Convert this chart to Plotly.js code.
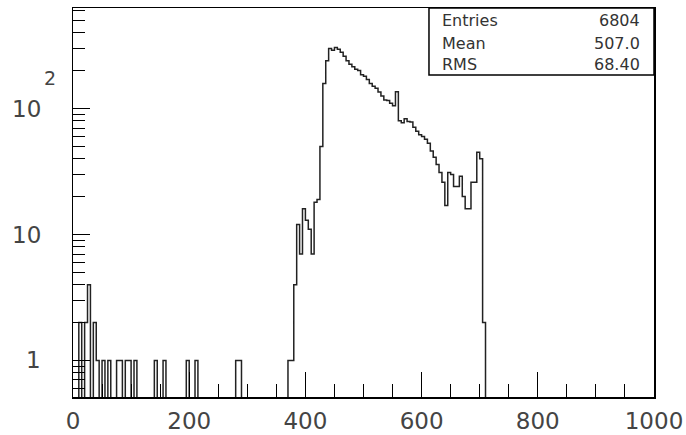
<!DOCTYPE html>
<html>
<head>
<meta charset="utf-8">
<script src="https://cdn.plot.ly/plotly-3.0.1.min.js"></script>
<style>html,body{margin:0;padding:0;background:#fff;}#chart{width:686px;height:435px;}</style>
</head>
<body>
<div id="chart"></div>
<script>
// Histogram: 200 bins of width 5 from 0 to 1000
const binWidth = 5;
const xMin = 0;
const counts = [
  0, 0, 2, 0, 2, 4, 0, 2, 1, 0,        // 0-45
  1, 0, 1, 0, 0, 1, 1, 0, 1, 1,        // 50-95
  0, 1, 0, 0, 0, 0, 0, 0, 1, 0,        // 100-145
  0, 1, 0, 0, 0, 0, 0, 0, 0, 1,        // 150-195
  0, 0, 1, 0, 0, 0, 0, 0, 0, 0,        // 200-245
  0, 0, 0, 0, 0, 0, 1, 1, 0, 0,        // 250-295
  0, 0, 0, 0, 0, 0, 0, 0, 0, 0,        // 300-345
  0, 0, 0, 0, 1, 1, 4, 12, 7, 16,      // 350-395
  13, 11, 7, 18, 19, 50, 158, 240, 300, 290,   // 400-445
  305, 295, 280, 260, 240, 225, 215, 205, 200, 185, // 450-495
  180, 170, 158, 150, 145, 135, 126, 117, 116, 110, // 500-545
  105, 136, 80, 77, 83, 79, 78, 71, 66, 62,  // 550-595
  60, 57, 53, 46, 41, 36, 31, 26, 17, 31,    // 600-645
  30, 24, 24, 29, 20, 16, 16, 26, 26, 45,    // 650-695
  40, 2, 0, 0, 0, 0, 0, 0, 0, 0,             // 700-745
  0, 0, 0, 0, 0, 0, 0, 0, 0, 0,              // 750-795
  0, 0, 0, 0, 0, 0, 0, 0, 0, 0,              // 800-845
  0, 0, 0, 0, 0, 0, 0, 0, 0, 0,              // 850-895
  0, 0, 0, 0, 0, 0, 0, 0, 0, 0,              // 900-945
  0, 0, 0, 0, 0, 0, 0, 0, 0, 0               // 950-995
];

const statLabels = ["Entries", "Mean", "RMS"];
const statValues = ["6804", "507.0", "68.40"];

const xMajorTicks = [0, 200, 400, 600, 800, 1000];
const xMinorTicks = [50,100,150,250,300,350,450,500,550,650,700,750,850,900,950];
const yMajorTicks = [1, 10, 100];
const yMinorTicks = [0.6,0.7,0.8,0.9,2,3,4,5,6,7,8,9,20,30,40,50,60,70,80,90,200,300,400,500,600];
const yTickBase = ["1", "10", "10"];
const yTickExp = ["", "", "2"];

// Build step outline (zero bins drop below the log axis bottom)
const xs = [], ys = [];
for (let i = 0; i < counts.length; i++) {
  xs.push(xMin + i * binWidth);
  ys.push(counts[i] > 0 ? counts[i] : 1e-3);
}
xs.push(xMin + counts.length * binWidth);
ys.push(counts[counts.length - 1] > 0 ? counts[counts.length - 1] : 1e-3);

const trace = {
  type: 'scatter', mode: 'lines', x: xs, y: ys,
  line: {shape: 'hv', color: '#222', width: 1.5},
  hoverinfo: 'skip', showlegend: false
};

const font = 'DejaVu Sans, sans-serif';
const annotations = [];
// y tick labels (base and exponent drawn as ROOT does)
const yLabelPos = [
  {x: -40, anchor: 'center'},
  {x: -63, anchor: 'left'},
  {x: -63, anchor: 'left'}
];
yMajorTicks.forEach((v, i) => {
  annotations.push({
    xref: 'paper', yref: 'y', x: 0, y: Math.log10(v),
    xshift: yLabelPos[i].x, xanchor: yLabelPos[i].anchor, yanchor: 'middle',
    text: yTickBase[i], showarrow: false,
    font: {family: font, size: 23, color: '#444'}
  });
  if (yTickExp[i]) {
    annotations.push({
      xref: 'paper', yref: 'y', x: 0, y: Math.log10(v),
      xshift: -23, yshift: 31, xanchor: 'center', yanchor: 'middle',
      text: yTickExp[i], showarrow: false,
      font: {family: font, size: 19, color: '#444'}
    });
  }
});
// stats box texts
const statY = [0.9666, 0.910, 0.856];
statLabels.forEach((t, i) => {
  annotations.push({xref: 'paper', yref: 'paper', x: 0.632, y: statY[i], xanchor: 'left', yanchor: 'middle',
    text: t, showarrow: false, font: {family: font, size: 16, color: '#333'}});
  annotations.push({xref: 'paper', yref: 'paper', x: 0.979, y: statY[i], xanchor: 'right', yanchor: 'middle',
    text: statValues[i], showarrow: false, font: {family: font, size: 16, color: '#333'}});
});

const layout = {
  width: 686, height: 435,
  margin: {l: 73, r: 32, t: 8, b: 38, pad: 0},
  paper_bgcolor: '#fff', plot_bgcolor: '#fff',
  showlegend: false,
  xaxis: {
    range: [0, 1000], tickmode: 'array', tickvals: xMajorTicks,
    ticks: 'inside', ticklen: 25, tickwidth: 1, tickcolor: '#000',
    ticklabelstandoff: 3,
    showline: true, mirror: true, linecolor: '#000', linewidth: 1.5,
    showgrid: false, zeroline: false,
    tickfont: {family: font, size: 23, color: '#444'},
    minor: {tickmode: 'array', tickvals: xMinorTicks, ticks: 'inside', ticklen: 13, tickwidth: 1, tickcolor: '#000', showgrid: false}
  },
  yaxis: {
    type: 'log', range: [-0.29, 2.798], tickmode: 'array', tickvals: yMajorTicks,
    ticks: 'inside', ticklen: 17, tickwidth: 1, tickcolor: '#000',
    showticklabels: false,
    showline: true, mirror: true, linecolor: '#000', linewidth: 1.5,
    showgrid: false, zeroline: false,
    minor: {tickmode: 'array', tickvals: yMinorTicks, ticks: 'inside', ticklen: 12, tickwidth: 1, tickcolor: '#000', showgrid: false}
  },
  shapes: [{
    type: 'rect', xref: 'paper', yref: 'paper', x0: 0.6127, x1: 1, y0: 0.8278, y1: 1,
    line: {color: '#000', width: 1.5}, fillcolor: '#fff', layer: 'above'
  }],
  annotations: annotations
};

Plotly.newPlot('chart', [trace], layout, {staticPlot: true, displayModeBar: false});
</script>
</body>
</html>
